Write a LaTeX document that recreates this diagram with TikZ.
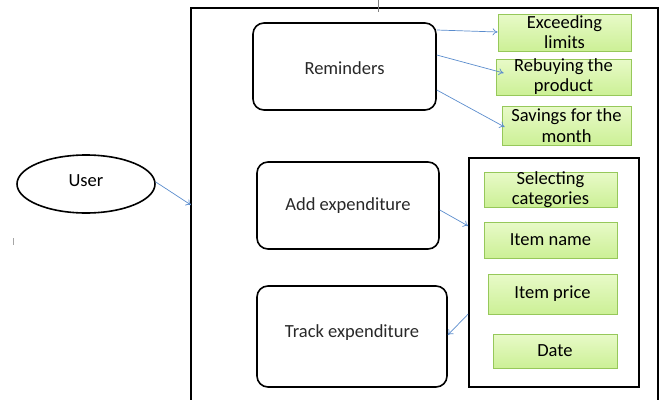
\documentclass[tikz,border=0pt]{standalone}
\usepackage{fontspec}
\setmainfont{Carlito}
\usetikzlibrary{arrows.meta,calc,shapes.geometric}
\definecolor{txtgray}{RGB}{40,40,40}
\definecolor{gfillA}{RGB}{232,250,200}
\definecolor{gfillB}{RGB}{204,240,150}
\definecolor{gborder}{RGB}{150,200,90}
\definecolor{arrblue}{RGB}{90,140,205}
\tikzset{
  rbox/.style={draw=black, line width=1.6pt, rounded corners=11pt, inner sep=0pt},
  gbox/.style={draw=gborder, line width=0.8pt, top color=gfillA, bottom color=gfillB, inner sep=0pt},
  gtext/.style={align=center, font=\fontsize{18.5}{20.5}\selectfont, text=black, inner sep=0pt},
  btext/.style={align=center, font=\fontsize{18.5}{20.5}\selectfont, text=txtgray, inner sep=0pt},
  conn/.style={draw=arrblue, line width=0.7pt, -{To[length=5pt,width=7pt]}},
}
\begin{document}
\begin{tikzpicture}[x=1pt,y=-1pt]
\useasboundingbox (0,0) rectangle (664,399);
% outer system box (open at bottom)
\draw[line width=1.6pt] (191,400) -- (191,8) -- (658,8) -- (658,400);
\coordinate (sysL) at (191,205);
% tick marks
\draw[gray, line width=0.8pt] (378,0) -- (378,12);
\draw[gray!70, line width=0.6pt] (13,238) -- (13,245);
% user
\node[draw, ellipse, line width=1.6pt, minimum width=138pt, minimum height=58pt, inner sep=0pt] (user) at (86,184) {};
\node[btext, text=black] (usert) at (86,181) {User};
% reminders
\node[rbox, minimum width=183pt, minimum height=87pt] (rem) at (344.5,66.5) {};
\node[btext] (remt) at (344.5,68) {Reminders};
% add / track
\node[rbox, minimum width=182pt, minimum height=87pt] (add) at (348,205.5) {};
\node[btext] (addt) at (348,206) {Add expenditure};
\node[rbox, minimum width=190pt, minimum height=101pt] (track) at (352,336.5) {};
\node[btext] (trackt) at (352,333) {Track expenditure};
% inner box
\node[draw, line width=1.6pt, minimum width=170pt, minimum height=229pt, inner sep=0pt] (inbox) at (554,272.5) {};
% green boxes top
\node[gbox, minimum width=133pt, minimum height=37pt] (ex) at (564.5,32.5) {};
\node[gtext] (ext) at (564.5,32) {Exceeding\\limits};
\node[gbox, minimum width=135pt, minimum height=36pt] (rb) at (563.5,77) {};
\node[gtext] (rbt) at (563.5,76.5) {Rebuying the\\product};
\node[gbox, minimum width=129pt, minimum height=39pt] (sv) at (566.5,125.5) {};
\node[gtext] (svt) at (566.5,125.5) {Savings for the\\month};
% green boxes inner
\node[gbox, minimum width=133pt, minimum height=35pt] (sc) at (550.5,189.5) {};
\node[gtext] (sct) at (550.5,189.5) {Selecting\\categories};
\node[gbox, minimum width=133pt, minimum height=36pt] (in) at (550.5,240) {};
\node[gtext] (int) at (550.5,240) {Item name};
\node[gbox, minimum width=129pt, minimum height=40pt] (ip) at (552.5,294) {};
\node[gtext] (ipt) at (552.5,294) {Item price};
\node[gbox, minimum width=124pt, minimum height=34pt] (dt) at (555,351) {};
\node[gtext] (dtt) at (555,351) {Date};
% connectors
\draw[conn] ([yshift=2pt]user.east) -- (sysL);
\draw[conn] ([yshift=36.5pt]rem.east) -- ([yshift=0.5pt]ex.west);
\draw[conn] ([yshift=11.5pt]rem.east) -- ([xshift=8pt,yshift=4pt]rb.west);
\draw[conn] ([yshift=-23.5pt]rem.east) -- ([xshift=3pt,yshift=-1.5pt]sv.west);
\draw[conn] ([yshift=-4.5pt]add.east) -- ([yshift=46.5pt]inbox.west);
\draw[conn] ([yshift=-41.5pt]inbox.west) -- ([yshift=1.5pt]track.east);
\end{tikzpicture}
\end{document}
